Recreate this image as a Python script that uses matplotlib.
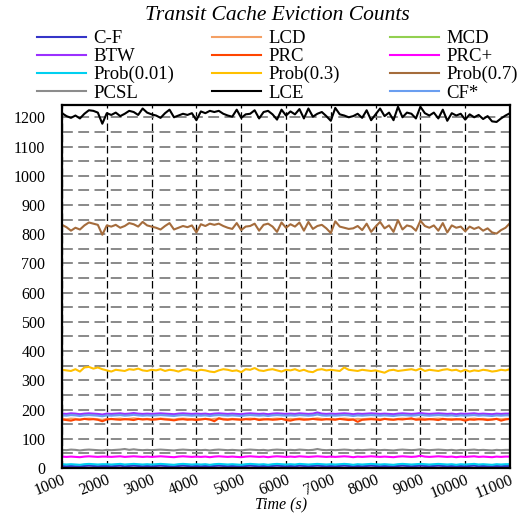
import numpy as np
import matplotlib
matplotlib.use("Agg")
import matplotlib.pyplot as plt
from matplotlib.ticker import MultipleLocator

plt.rcParams['font.family'] = ['Liberation Serif', 'DejaVu Serif']

# sampling times (s)
time_s = np.arange(1000, 11001, 100)

lce = [1214, 1204, 1198, 1206, 1196, 1212, 1224, 1222, 1216, 1178,
       1214, 1208, 1216, 1204, 1212, 1222, 1218, 1208, 1230, 1216,
       1210, 1206, 1198, 1214, 1226, 1200, 1206, 1212, 1208, 1214,
       1190, 1220, 1214, 1222, 1218, 1222, 1212, 1206, 1202, 1226,
       1198, 1210, 1212, 1224, 1196, 1218, 1222, 1210, 1192, 1226,
       1206, 1220, 1210, 1228, 1196, 1230, 1202, 1212, 1218, 1204,
       1188, 1232, 1210, 1206, 1200, 1204, 1212, 1198, 1224, 1190,
       1210, 1230, 1204, 1216, 1190, 1236, 1200, 1216, 1212, 1196,
       1236, 1214, 1206, 1216, 1196, 1226, 1188, 1214, 1206, 1212,
       1192, 1210, 1200, 1208, 1194, 1204, 1186, 1184, 1196, 1206,
       1214]

prob07 = [832, 824, 812, 822, 816, 830, 840, 836, 832, 798,
          830, 826, 832, 822, 828, 838, 834, 826, 842, 830,
          826, 822, 816, 828, 838, 816, 822, 828, 824, 830,
          806, 834, 828, 836, 832, 836, 828, 822, 818, 838,
          814, 826, 828, 836, 812, 832, 836, 826, 808, 840,
          822, 834, 826, 840, 812, 842, 818, 828, 832, 820,
          804, 844, 826, 822, 818, 820, 828, 814, 836, 808,
          826, 842, 820, 830, 808, 848, 816, 830, 826, 812,
          846, 828, 822, 830, 812, 838, 806, 830, 822, 826,
          810, 826, 818, 824, 812, 820, 806, 802, 814, 822,
          838]

prob03 = [336, 334, 332, 338, 330, 344, 346, 340, 344, 338,
          334, 330, 336, 334, 332, 338, 336, 340, 334, 332,
          336, 334, 338, 332, 336, 334, 330, 336, 338, 334,
          332, 336, 334, 330, 328, 334, 338, 336, 332, 334,
          328, 338, 336, 342, 334, 332, 336, 338, 334, 330,
          336, 334, 338, 332, 336, 330, 328, 336, 338, 334,
          336, 334, 332, 344, 336, 334, 332, 336, 334, 332,
          334, 330, 326, 334, 336, 332, 334, 336, 338, 334,
          340, 332, 336, 334, 332, 336, 338, 334, 336, 330,
          336, 330, 334, 332, 336, 334, 330, 332, 336, 334,
          338]

btw = [186, 185, 187, 186, 184, 186, 187, 186, 185, 183,
       186, 185, 186, 187, 185, 186, 188, 186, 185, 186,
       185, 186, 187, 186, 185, 184, 186, 187, 186, 185,
       186, 185, 186, 184, 186, 187, 186, 185, 186, 185,
       184, 186, 187, 186, 185, 186, 184, 186, 187, 186,
       185, 186, 185, 187, 186, 185, 186, 190, 186, 185,
       186, 185, 186, 187, 186, 184, 186, 185, 186, 187,
       186, 185, 186, 185, 184, 186, 187, 186, 185, 186,
       188, 186, 185, 186, 187, 186, 185, 186, 184, 186,
       185, 186, 187, 185, 186, 185, 184, 186, 185, 186,
       186]

mcd = [183, 182, 184, 183, 182, 183, 184, 183, 182, 181,
       183, 182, 183, 184, 182, 183, 185, 183, 182, 183,
       182, 183, 184, 183, 182, 181, 183, 184, 183, 182,
       183, 182, 183, 181, 183, 184, 183, 182, 183, 182,
       181, 183, 184, 183, 182, 183, 181, 183, 184, 183,
       182, 183, 182, 184, 183, 182, 183, 186, 183, 182,
       183, 182, 183, 184, 183, 181, 183, 182, 183, 184,
       183, 182, 183, 182, 181, 183, 184, 183, 182, 183,
       185, 183, 182, 183, 184, 183, 182, 183, 181, 183,
       182, 183, 184, 182, 183, 182, 181, 183, 182, 183,
       183]

cf_star = [180, 179, 181, 180, 178, 180, 181, 180, 179, 177,
           180, 179, 180, 181, 179, 180, 182, 180, 179, 180,
           179, 180, 181, 180, 179, 178, 180, 181, 180, 179,
           180, 179, 180, 178, 180, 181, 180, 179, 180, 179,
           178, 180, 181, 180, 179, 180, 178, 180, 181, 180,
           179, 180, 179, 181, 180, 179, 180, 183, 180, 179,
           180, 179, 180, 181, 180, 178, 180, 179, 180, 181,
           180, 179, 180, 179, 178, 180, 181, 180, 179, 180,
           182, 180, 179, 180, 181, 180, 179, 180, 178, 180,
           179, 180, 181, 179, 180, 179, 178, 180, 179, 180,
           180]

lcd = [168, 167, 169, 168, 166, 168, 169, 168, 167, 165,
       168, 167, 168, 169, 167, 168, 170, 168, 167, 168,
       167, 168, 169, 168, 167, 166, 168, 169, 168, 167,
       168, 167, 168, 166, 168, 169, 168, 167, 168, 167,
       166, 168, 169, 168, 167, 168, 166, 168, 169, 168,
       167, 168, 167, 169, 168, 167, 168, 170, 168, 167,
       168, 167, 168, 169, 168, 166, 168, 167, 168, 169,
       168, 167, 168, 167, 166, 168, 169, 168, 167, 168,
       170, 168, 167, 168, 169, 168, 167, 168, 166, 168,
       167, 168, 169, 167, 168, 167, 166, 168, 167, 168,
       168]

prc = [166, 164, 162, 166, 165, 168, 166, 167, 165, 160,
       166, 168, 166, 165, 167, 166, 164, 168, 166, 167,
       165, 166, 168, 166, 165, 163, 166, 167, 165, 166,
       164, 166, 168, 166, 160, 170, 166, 165, 167, 166,
       165, 167, 166, 168, 164, 166, 167, 165, 166, 168,
       164, 162, 166, 167, 165, 166, 168, 166, 165, 167,
       166, 165, 168, 166, 164, 166, 158, 165, 166, 167,
       166, 164, 168, 166, 165, 167, 166, 168, 170, 165,
       166, 165, 167, 166, 164, 168, 166, 165, 167, 166,
       162, 166, 165, 167, 166, 164, 166, 168, 162, 166,
       168]

pcsl = [62, 61, 63, 62, 60, 62, 63, 62, 61, 60,
        62, 61, 62, 63, 65, 62, 64, 62, 61, 62,
        61, 62, 63, 62, 61, 60, 62, 63, 62, 61,
        62, 61, 62, 60, 62, 63, 62, 61, 62, 61,
        60, 62, 63, 62, 61, 62, 60, 62, 63, 62,
        61, 62, 61, 63, 62, 61, 62, 65, 62, 61,
        62, 61, 62, 63, 62, 60, 62, 61, 62, 63,
        62, 61, 62, 61, 60, 62, 63, 62, 61, 62,
        64, 62, 61, 62, 63, 62, 61, 62, 60, 62,
        61, 62, 63, 61, 62, 61, 60, 62, 61, 62,
        62]

prc_plus = [39, 38, 39, 38, 37, 39, 40, 39, 38, 39,
            39, 38, 39, 40, 38, 39, 40, 39, 38, 39,
            38, 39, 40, 39, 38, 37, 39, 40, 39, 38,
            39, 38, 39, 37, 39, 40, 39, 38, 39, 38,
            37, 39, 40, 39, 38, 39, 37, 39, 40, 39,
            38, 39, 38, 40, 39, 38, 39, 40, 39, 38,
            39, 38, 39, 40, 39, 37, 39, 38, 39, 40,
            39, 38, 39, 38, 37, 39, 40, 39, 38, 39,
            42, 39, 38, 39, 40, 39, 38, 39, 37, 39,
            38, 39, 40, 38, 39, 38, 37, 39, 38, 39,
            39]

prob001 = [13, 12, 13, 12, 11, 13, 14, 13, 12, 13,
           13, 12, 13, 14, 12, 13, 14, 13, 12, 13,
           12, 13, 14, 13, 12, 11, 13, 14, 13, 12,
           13, 12, 13, 11, 13, 14, 13, 12, 13, 12,
           11, 13, 14, 13, 12, 13, 11, 13, 14, 13,
           12, 13, 12, 14, 13, 12, 13, 14, 13, 12,
           13, 12, 13, 14, 13, 11, 13, 12, 13, 14,
           13, 12, 13, 12, 11, 13, 14, 13, 12, 13,
           14, 13, 12, 13, 14, 13, 12, 13, 11, 13,
           12, 13, 14, 12, 13, 12, 11, 13, 12, 13,
           13]

cf = [7, 6, 7, 6, 6, 7, 8, 7, 6, 7,
      7, 6, 7, 8, 6, 7, 8, 7, 6, 7,
      6, 7, 8, 7, 6, 6, 7, 8, 7, 6,
      7, 6, 7, 6, 7, 8, 7, 6, 7, 6,
      6, 7, 8, 7, 6, 7, 6, 7, 8, 7,
      6, 7, 6, 8, 7, 6, 7, 8, 7, 6,
      7, 6, 7, 8, 7, 6, 7, 6, 7, 8,
      7, 6, 7, 6, 6, 7, 8, 7, 6, 7,
      8, 7, 6, 7, 8, 7, 6, 7, 6, 7,
      6, 7, 8, 6, 7, 6, 6, 7, 6, 7,
      7]

series_names = ['C-F', 'LCD', 'MCD', 'BTW', 'PRC', 'PRC+',
                'Prob(0.01)', 'Prob(0.3)', 'Prob(0.7)', 'PCSL', 'LCE', 'CF*']
series_values = [cf, lcd, mcd, btw, prc, prc_plus,
                 prob001, prob03, prob07, pcsl, lce, cf_star]
series_colors = ['#3535c8', '#f4a064', '#92d050', '#9b30ff', '#ff4500', '#ff00ff',
                 '#00d0f0', '#ffc000', '#a56c3c', '#8c8c8c', '#000000', '#6a9ef0']

W, H = 518, 515
fig = plt.figure(figsize=(W / 100, H / 100), dpi=100)
ax = fig.add_axes([62 / W, 1 - 468 / H, 448 / W, (468 - 105) / H])

handles = {}
for name, vals, col in zip(series_names, series_values, series_colors):
    ln, = ax.plot(time_s, vals, color=col, lw=1.5, label=name)
    handles[name] = ln

ax.set_xlim(1000, 11000)
ax.set_ylim(0, 1242)
ax.xaxis.set_major_locator(MultipleLocator(1000))
ax.yaxis.set_major_locator(MultipleLocator(100))
ax.yaxis.set_minor_locator(MultipleLocator(50))

ax.grid(axis='y', which='both', color='#808080', ls=(0, (6, 3)), lw=1.3)
ax.grid(axis='x', which='major', color='#000000', ls=(0, (6, 3)), lw=0.9)
ax.set_axisbelow(True)

for sp in ax.spines.values():
    sp.set_color('black')
    sp.set_linewidth(1.6)

ax.tick_params(axis='both', which='both', length=0)
ax.tick_params(axis='y', labelsize=11.5, pad=12)
ax.tick_params(axis='x', labelsize=11.5, pad=3)
for lab in ax.get_xticklabels():
    lab.set_rotation(22)
    lab.set_ha('right')
    lab.set_rotation_mode('anchor')

ax.set_xlabel('Time (s)', fontsize=11.5, style='italic')
ax.xaxis.set_label_coords(0.49, -0.081)

fig.text(277 / W, 1 - 16 / H, 'Transit Cache Eviction Counts', fontsize=15.5,
         style='italic', ha='center', va='center')

# three legend columns, filled row by row in plotting order
columns = [['C-F', 'BTW', 'Prob(0.01)', 'PCSL'],
           ['LCD', 'PRC', 'Prob(0.3)', 'LCE'],
           ['MCD', 'PRC+', 'Prob(0.7)', 'CF*']]
col_x = [37, 212, 390]
for names, x0 in zip(columns, col_x):
    fig.legend([handles[n] for n in names], names, loc='upper left',
               bbox_to_anchor=(x0 / W, 1 - 30 / H), frameon=False,
               fontsize=13.5, handlelength=2.6, handletextpad=0.4,
               labelspacing=0.05, borderpad=0, borderaxespad=0)

fig.savefig('out.png', dpi=100)
